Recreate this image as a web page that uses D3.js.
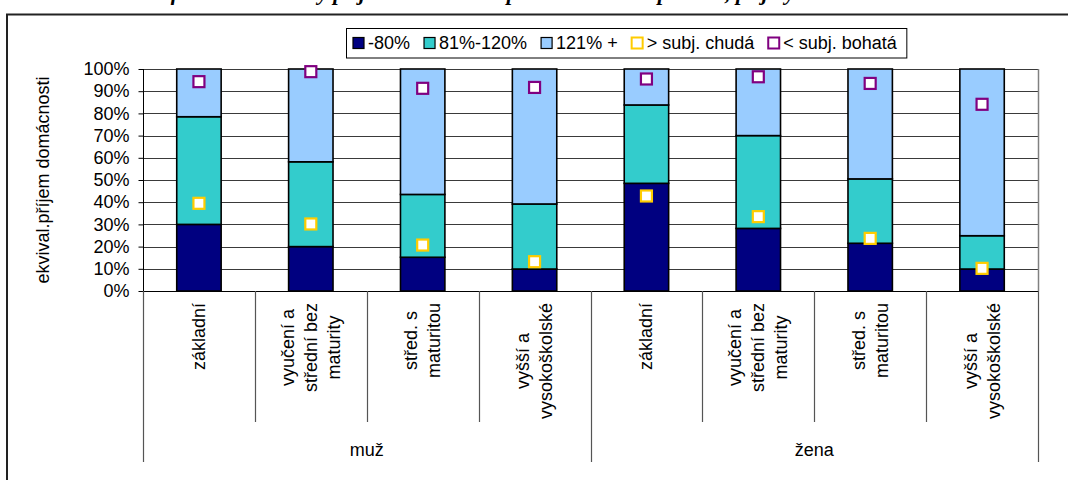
<!DOCTYPE html>
<html><head><meta charset="utf-8">
<script src="https://cdn.jsdelivr.net/npm/d3@7"></script>
<style>
html,body{margin:0;padding:0;background:#fff;}
svg{display:block;font-family:"Liberation Sans",Arial,sans-serif;}
</style></head>
<body>
<svg id="chart" width="1068" height="480"></svg>
<script>
// ---- data ----
const groups = ["muž", "žena"];
const education = ["základní", "vyučení a střední bez maturity", "střed. s maturitou", "vyšší a vysokoškolské"];
const educationLines = [["základní"], ["vyučení a", "střední bez", "maturity"], ["střed. s", "maturitou"], ["vyšší a", "vysokoškolské"]];
const seriesNames = ["-80%", "81%-120%", "121% +"];
const low = [30, 20, 15.2, 9.9, 48.5, 28.2, 21.5, 9.9];
const mid = [48.5, 38.2, 28.3, 29.3, 35.3, 41.8, 29.0, 15.0];
const high = [21.5, 41.8, 56.5, 60.8, 16.2, 30.0, 49.5, 75.1];
const markerNames = ["> subj. chudá", "< subj. bohatá"];
const subjPoor = [39.5, 30.2, 20.7, 13.2, 42.8, 33.5, 23.7, 10.2];
const subjRich = [94.3, 98.8, 91.3, 91.7, 95.5, 96.5, 93.5, 84.1];
const yTicks = [0, 10, 20, 30, 40, 50, 60, 70, 80, 90, 100];
const yTitle = "ekvival.příjem domácnosti";
const title = "Graf: Ekvivalizovaný příjem domácnosti podle vzdělání a pohlaví, příjmy";

// ---- styling ----
const barColors = ["#000080", "#33CCCC", "#99CCFF"];
const markerColors = ["#FFCC00", "#800080"];
const fontSize = 18;

const svg = d3.select("#chart");
const pLeft = 143, pRight = 1038, pTop = 69, pBottom = 291;

// categories
const cats = [];
groups.forEach(g => education.forEach((e, i) => cats.push({key: g + "|" + e, group: g, ei: i})));
const rows = cats.map((c, i) => ({key: c.key, low: low[i], mid: mid[i], high: high[i], poor: subjPoor[i], rich: subjRich[i]}));

const x = d3.scaleBand().domain(cats.map(c => c.key)).range([pLeft, pRight]).paddingInner(0.603).paddingOuter(0.3015);
const y = d3.scaleLinear().domain([0, 100]).range([pBottom, pTop]);

// title (cut off at the top edge like the reference)
svg.append("text").attr("x", 465).attr("y", 0).attr("text-anchor", "middle")
  .attr("font-family", "'Liberation Serif','Times New Roman',serif").attr("font-weight", "bold").attr("font-style", "italic")
  .attr("font-size", 22).attr("fill", "#000").text(title);

// outer frame
svg.append("rect").attr("x", 7).attr("y", 14.5).attr("width", 1100).attr("height", 520)
  .attr("fill", "none").attr("stroke", "#222").attr("stroke-width", 2);

// plot background + gridlines
svg.append("rect").attr("x", pLeft).attr("y", pTop).attr("width", pRight - pLeft).attr("height", pBottom - pTop).attr("fill", "#fff");
svg.append("g").selectAll("line").data(yTicks).join("line")
  .attr("x1", pLeft).attr("x2", pRight)
  .attr("y1", d => Math.round(y(d)) + 0.5).attr("y2", d => Math.round(y(d)) + 0.5)
  .attr("stroke", "#3a3a3a").attr("stroke-width", 1);
svg.append("line").attr("x1", pRight + 0.5).attr("x2", pRight + 0.5).attr("y1", pTop).attr("y2", pBottom)
  .attr("stroke", "#808080").attr("stroke-width", 1.5);

// y axis
const yAxis = svg.append("g").attr("transform", `translate(${pLeft + 0.5},0)`)
  .call(d3.axisLeft(y).tickValues(yTicks).tickSize(5).tickPadding(9).tickFormat(d => d + "%"));
yAxis.selectAll("path,line").attr("stroke", "#000");
yAxis.select(".domain").remove();
yAxis.append("line").attr("x1", 0).attr("x2", 0).attr("y1", pTop).attr("y2", pBottom).attr("stroke", "#000");
yAxis.selectAll("text").attr("font-size", fontSize).attr("font-family", "'Liberation Sans',Arial,sans-serif").attr("fill", "#000");

// y title
svg.append("text").attr("transform", `translate(43,${(pTop + pBottom) / 2}) rotate(-90)`)
  .attr("text-anchor", "middle").attr("dominant-baseline", "central")
  .attr("font-size", fontSize).attr("fill", "#000").text(yTitle);

// stacked bars
const stack = d3.stack().keys(["low", "mid", "high"]);
const layers = stack(rows);
svg.append("g").selectAll("g").data(layers).join("g")
  .attr("fill", (d, i) => barColors[i])
  .selectAll("rect").data(d => d).join("rect")
  .attr("x", d => x(d.data.key))
  .attr("width", x.bandwidth())
  .attr("y", d => y(d[1]))
  .attr("height", d => y(d[0]) - y(d[1]))
  .attr("stroke", "#000").attr("stroke-width", 1.6);

// x axis line
svg.append("line").attr("x1", pLeft).attr("x2", pRight).attr("y1", pBottom + 0.5).attr("y2", pBottom + 0.5).attr("stroke", "#000");

// category separators
const step = x.step();
const catBounds = d3.range(cats.length + 1).map(i => pLeft + i * step);
svg.append("g").selectAll("line").data(catBounds).join("line")
  .attr("x1", d => Math.round(d) + 0.5).attr("x2", d => Math.round(d) + 0.5)
  .attr("y1", pBottom).attr("y2", (d, i) => (i % education.length === 0) ? 462 : 422)
  .attr("stroke", "#555").attr("stroke-width", 1.2);

// category labels (rotated, multi-line)
const lineGap = 23;
const catG = svg.append("g");
cats.forEach(c => {
  const cx = x(c.key) + x.bandwidth() / 2;
  const lines = educationLines[c.ei];
  const g = catG.append("g");
  const texts = lines.map((t, j) => g.append("text")
    .attr("font-size", fontSize).attr("fill", "#000")
    .attr("text-anchor", "middle").attr("dominant-baseline", "central").text(t));
  const maxLen = d3.max(texts, t => t.node().getComputedTextLength());
  const cy = 303 + maxLen / 2;
  texts.forEach((t, j) => {
    const off = (j - (lines.length - 1) / 2) * lineGap;
    t.attr("transform", `translate(${cx + off},${cy}) rotate(-90)`);
  });
});

// group labels
groups.forEach((g, gi) => {
  const x0 = pLeft + gi * education.length * step;
  const x1 = x0 + education.length * step;
  svg.append("text").attr("x", (x0 + x1) / 2).attr("y", 450)
    .attr("text-anchor", "middle").attr("dominant-baseline", "central")
    .attr("font-size", fontSize).attr("fill", "#000").text(g);
});

// markers
const ms = 11;
[["poor", 0], ["rich", 1]].forEach(([k, i]) => {
  svg.append("g").selectAll("rect").data(rows).join("rect")
    .attr("x", d => x(d.key) + x.bandwidth() / 2 - ms / 2)
    .attr("y", d => y(d[k]) - ms / 2)
    .attr("width", ms).attr("height", ms)
    .attr("fill", "#fff").attr("stroke", markerColors[i]).attr("stroke-width", 2.2);
});

// legend
const legend = svg.append("g");
const legendItems = [
  ...seriesNames.map((n, i) => ({name: n, type: "bar", color: barColors[i]})),
  ...markerNames.map((n, i) => ({name: n, type: "marker", color: markerColors[i]}))
];
let lx = 353;
const ly = 43;
legendItems.forEach(it => {
  if (it.type === "bar") {
    legend.append("rect").attr("x", lx).attr("y", ly - 5.5).attr("width", 11).attr("height", 11)
      .attr("fill", it.color).attr("stroke", "#000").attr("stroke-width", 1.2);
  } else {
    legend.append("rect").attr("x", lx).attr("y", ly - 5.5).attr("width", 11).attr("height", 11)
      .attr("fill", "#fff").attr("stroke", it.color).attr("stroke-width", 2);
  }
  const t = legend.append("text").attr("x", lx + 15).attr("y", ly).attr("dominant-baseline", "central")
    .attr("font-size", fontSize).attr("fill", "#000").text(it.name);
  lx += 15 + t.node().getComputedTextLength() + 14;
});
legend.insert("rect", ":first-child").attr("x", 346.5).attr("y", 28.5).attr("width", lx - 346.5 - 4).attr("height", 29.5)
  .attr("fill", "#fff").attr("stroke", "#000").attr("stroke-width", 1);
</script>
</body></html>
